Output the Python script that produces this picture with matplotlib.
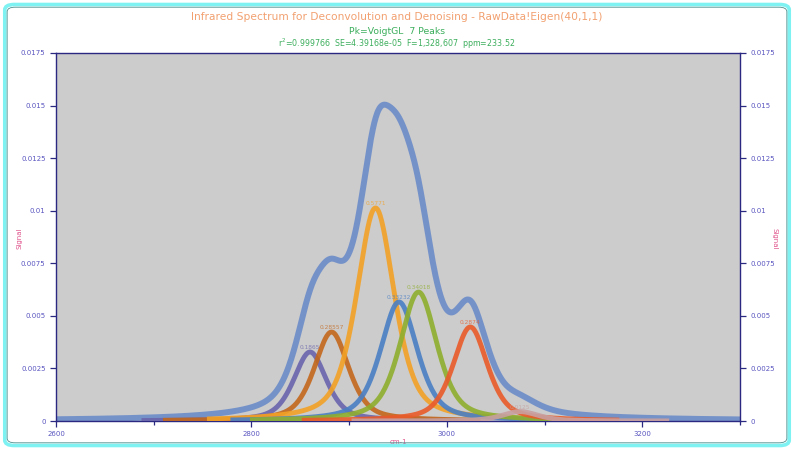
import numpy as np
import matplotlib.pyplot as plt
from matplotlib.patches import FancyBboxPatch
from matplotlib.ticker import MultipleLocator

# peak fit parameters (centre cm-1, amplitude, FWHM)
centers = [2860, 2882, 2927, 2951, 2971, 3024, 3075]
amps = [0.00328, 0.00423, 0.01013, 0.00566, 0.00613, 0.00447, 0.00045]
widths = [40, 42, 46, 45, 45, 42, 44]
peak_labels = ["0.1865", "0.28557", "0.5771", "0.33232", "0.34018", "0.2874", "0.0125"]
peak_colors = ["#6a64ac", "#c4671c", "#f2a126", "#4a7fc4", "#8fae2e", "#e95b2a", "#c8a0a0"]
eta = 0.55

x_min, x_max = 2600, 3300


def voigt_gl(x, c, a, w):
    d = ((x - c) / w) ** 2
    return a * (eta / (1 + 4 * d) + (1 - eta) * np.exp(-4 * np.log(2) * d))


fig = plt.figure(figsize=(7.94, 4.5), dpi=100)
ax = fig.add_axes([0.0705, 0.0644, 0.8615, 0.818])
ax.set_facecolor("#cccccc")

xs = np.linspace(x_min, x_max, 1400)
total = np.zeros_like(xs)
for c, a, w in zip(centers, amps, widths):
    total += voigt_gl(xs, c, a, w)

ax.plot(xs, total, color="#6688c8", lw=4.3, alpha=0.85, zorder=2, solid_capstyle="butt")

for c, a, w, lab, col in zip(centers, amps, widths, peak_labels, peak_colors):
    xc = np.linspace(c - 170, c + 150, 400)
    ax.plot(xc, voigt_gl(xc, c, a, w), color=col, lw=3.5, alpha=0.9, zorder=3)
    ax.text(c, a + 0.00008, lab, color=col, fontsize=4.2, ha="center", va="bottom",
            alpha=0.75, zorder=4)

ax.set_xlim(x_min, x_max)
ax.set_ylim(0, 0.0175)
ax.xaxis.set_major_locator(MultipleLocator(200))
ax.xaxis.set_minor_locator(MultipleLocator(100))
ax.set_yticks(np.arange(0, 0.0176, 0.0025))
ax.set_yticklabels(["0", "0.0025", "0.005", "0.0075", "0.01", "0.0125", "0.015", "0.0175"])

axis_col = "#2a2880"
lab_col = "#5a55c0"
for s in ax.spines.values():
    s.set_color(axis_col)
    s.set_linewidth(1.0)
ax.tick_params(axis="both", which="both", colors=axis_col, labelcolor=lab_col,
               labelsize=5, direction="out", length=4, width=0.9)
ax.tick_params(axis="y", right=True, labelright=True)
ax.tick_params(axis="x", which="minor", length=3)

ax.set_xlabel("cm-1", color="#e0508a", fontsize=5, labelpad=1)
fig.text(0.024, 0.47, "Signal", color="#e0508a", fontsize=5, rotation=90,
         ha="center", va="center")
fig.text(0.976, 0.47, "Signal", color="#e0508a", fontsize=5, rotation=270,
         ha="center", va="center")

fig.text(0.5, 0.963, "Infrared Spectrum for Deconvolution and Denoising - RawData!Eigen(40,1,1)",
         ha="center", va="center", color="#f2a070", fontsize=7.7)
fig.text(0.5, 0.93, "Pk=VoigtGL  7 Peaks", ha="center", va="center",
         color="#3cae5c", fontsize=6.7)
fig.text(0.5, 0.903, r"r$^2$=0.999766  SE=4.39168e-05  F=1,328,607  ppm=233.52",
         ha="center", va="center", color="#3cae5c", fontsize=5.7)

# rounded cyan frame round the chart
frame = FancyBboxPatch((0.006, 0.01), 0.988, 0.98, boxstyle="round,pad=0,rounding_size=0.012",
                       transform=fig.transFigure, fill=False, edgecolor="#7ef2f2", lw=2.6)
fig.patches.append(frame)
inner = FancyBboxPatch((0.009, 0.016), 0.982, 0.968, boxstyle="round,pad=0,rounding_size=0.01",
                       transform=fig.transFigure, fill=False, edgecolor="#4a8c8c", lw=0.6)
fig.patches.append(inner)

fig.savefig("out.png", dpi=100)
